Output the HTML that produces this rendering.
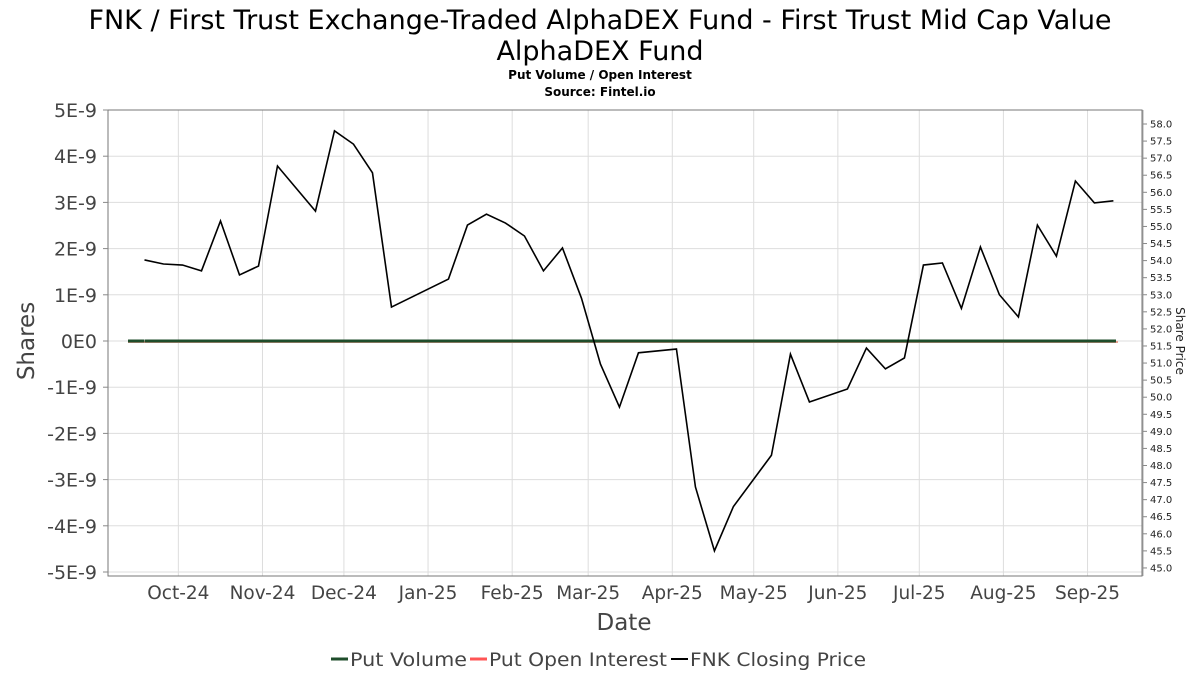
<!DOCTYPE html>
<html><head><meta charset="utf-8"><style>
html,body{margin:0;padding:0;background:#fff;}
svg{display:block;font-family:"DejaVu Sans","Liberation Sans",sans-serif;}
</style></head><body>
<svg id="chart" width="1200" height="675" viewBox="0 0 1200 675">
<text x="600" y="29" text-anchor="middle" font-size="27">FNK / First Trust Exchange-Traded AlphaDEX Fund - First Trust Mid Cap Value</text>
<text x="600" y="60" text-anchor="middle" font-size="27">AlphaDEX Fund</text>
<text x="600" y="79" text-anchor="middle" font-size="12" font-weight="bold">Put Volume / Open Interest</text>
<text x="600" y="96" text-anchor="middle" font-size="12" font-weight="bold">Source: Fintel.io</text>
<g id="grid"></g>
<rect x="108" y="110" width="1034" height="466" fill="none" stroke="#777" stroke-width="1"/>
<line x1="1143" y1="110" x2="1143" y2="576" stroke="#aaa"/>
<g id="ticks"></g>
<g id="series"></g>
<text transform="translate(34,341) rotate(-90)" text-anchor="middle" font-size="23" fill="#444">Shares</text>
<text transform="translate(1176,341) rotate(90)" text-anchor="middle" font-size="12" fill="#222">Share Price</text>
<text x="624" y="630" text-anchor="middle" font-size="23" fill="#444">Date</text>
<g>
<g><line x1="331" y1="659" x2="348" y2="659" stroke="#1f4d2b" stroke-width="3"/><text x="350" y="666" font-size="19" fill="#444" textLength="117" lengthAdjust="spacingAndGlyphs">Put Volume</text></g>
<g><line x1="470" y1="659" x2="487" y2="659" stroke="#ff5555" stroke-width="3"/><text x="489" y="666" font-size="19" fill="#444" textLength="178" lengthAdjust="spacingAndGlyphs">Put Open Interest</text></g>
<g><line x1="671" y1="659" x2="688" y2="659" stroke="#000" stroke-width="2"/><text x="690" y="666" font-size="19" fill="#444" textLength="176" lengthAdjust="spacingAndGlyphs">FNK Closing Price</text></g>
</g>
</svg>
<script>
const leftTicks=["5E-9","4E-9","3E-9","2E-9","1E-9","0E0","-1E-9","-2E-9","-3E-9","-4E-9","-5E-9"];
const leftTickValues=[5,4,3,2,1,0,-1,-2,-3,-4,-5];
const rightTickValues=[58,57.5,57,56.5,56,55.5,55,54.5,54,53.5,53,52.5,52,51.5,51,50.5,50,49.5,49,48.5,48,47.5,47,46.5,46,45.5,45];
const monthLabels=["Oct-24","Nov-24","Dec-24","Jan-25","Feb-25","Mar-25","Apr-25","May-25","Jun-25","Jul-25","Aug-25","Sep-25"];
const monthDates=["2024-10-01","2024-11-01","2024-12-01","2025-01-01","2025-02-01","2025-03-01","2025-04-01","2025-05-01","2025-06-01","2025-07-01","2025-08-01","2025-09-01"];
const priceDates=["2024-09-20","2024-09-27","2024-10-04","2024-10-11","2024-10-18","2024-10-25","2024-11-01","2024-11-08","2024-11-22","2024-11-29","2024-12-06","2024-12-13","2024-12-20","2025-01-10","2025-01-17","2025-01-24","2025-01-31","2025-02-07","2025-02-14","2025-02-21","2025-02-28","2025-03-07","2025-03-14","2025-03-21","2025-04-04","2025-04-11","2025-04-18","2025-04-25","2025-05-09","2025-05-16","2025-05-23","2025-06-06","2025-06-13","2025-06-20","2025-06-27","2025-07-04","2025-07-11","2025-07-18","2025-07-25","2025-08-01","2025-08-08","2025-08-15","2025-08-22","2025-08-29","2025-09-05","2025-09-12"];
const closingPrice=[54.02,53.9,53.87,53.7,55.16,53.58,53.84,56.77,55.45,57.8,57.41,56.57,52.64,53.46,55.04,55.36,55.1,54.72,53.7,54.37,52.9,50.97,49.71,51.3,51.41,47.37,45.5,46.8,48.3,51.26,49.86,50.24,51.44,50.83,51.15,53.87,53.93,52.6,54.4,53.0,52.35,55.04,54.13,56.33,55.69,55.75];
const putVolume=priceDates.map(()=>0);
const putOpenInterest=priceDates.map(()=>0);

const NS="http://www.w3.org/2000/svg";
const t0=Date.parse("2024-09-20");
function xScale(d){return 144.5+(Date.parse(d)-t0)/86400000*2.714;}
function yLeft(v){return 341-v*46.2;}
function yRight(p){return 124+(58-p)*34.15;}
function mk(tag,attrs,parent){const e=document.createElementNS(NS,tag);for(const k in attrs)e.setAttribute(k,attrs[k]);parent.appendChild(e);return e;}
const grid=document.getElementById('grid'),ticks=document.getElementById('ticks'),series=document.getElementById('series');
leftTickValues.forEach((v,i)=>{
  const y=yLeft(v);
  const g=mk('line',{x1:108,x2:1142,y1:y,y2:y,stroke:'#ddd','stroke-width':1},grid);
  
  
  const t=mk('text',{x:97,y:y+7,'text-anchor':'end','font-size':19,fill:'#444'},ticks);
  t.textContent=leftTicks[i];
  
  
  const tm=mk('line',{x1:103,x2:108,y1:y,y2:y,stroke:'#888'},ticks);
  
  
});
monthDates.forEach((d,i)=>{
  const x=xScale(d)+4;
  const g=mk('line',{x1:x,x2:x,y1:110,y2:576,stroke:'#ddd','stroke-width':1},grid);
  
  
  const t=mk('text',{x:x,y:599,'text-anchor':'middle','font-size':18.5,fill:'#444'},ticks);
  t.textContent=monthLabels[i];
  
  
});
rightTickValues.forEach(v=>{
  const y=yRight(v);
  const tm=mk('line',{x1:1143,x2:1147,y1:y,y2:y,stroke:'#888'},ticks);
  
  
  const t=mk('text',{x:1150,y:y+3.5,'font-size':10,fill:'#222'},ticks);
  t.textContent=v.toFixed(1);
  
  
});
const x0=128,x1=1118;
const oi=mk('line',{x1:x0,x2:x1,y1:yLeft(putOpenInterest[0])+1,y2:yLeft(putOpenInterest[0])+1,stroke:'#e8a090','stroke-width':2},series);


const pv=mk('polyline',{points:priceDates.map((d,i)=>xScale(d)+','+yLeft(putVolume[i])).join(' '),fill:'none',stroke:'#1f4d2b','stroke-width':3},series);


const pv2=mk('line',{x1:x0,x2:x1,y1:yLeft(putVolume[0]),y2:yLeft(putVolume[0]),stroke:'#1f4d2b','stroke-width':3,'stroke-dasharray':'16 2'},series);


const cp=mk('polyline',{points:priceDates.map((d,i)=>xScale(d)+','+yRight(closingPrice[i])).join(' '),fill:'none',stroke:'#000','stroke-width':1.6},series);


</script>
</body></html>
